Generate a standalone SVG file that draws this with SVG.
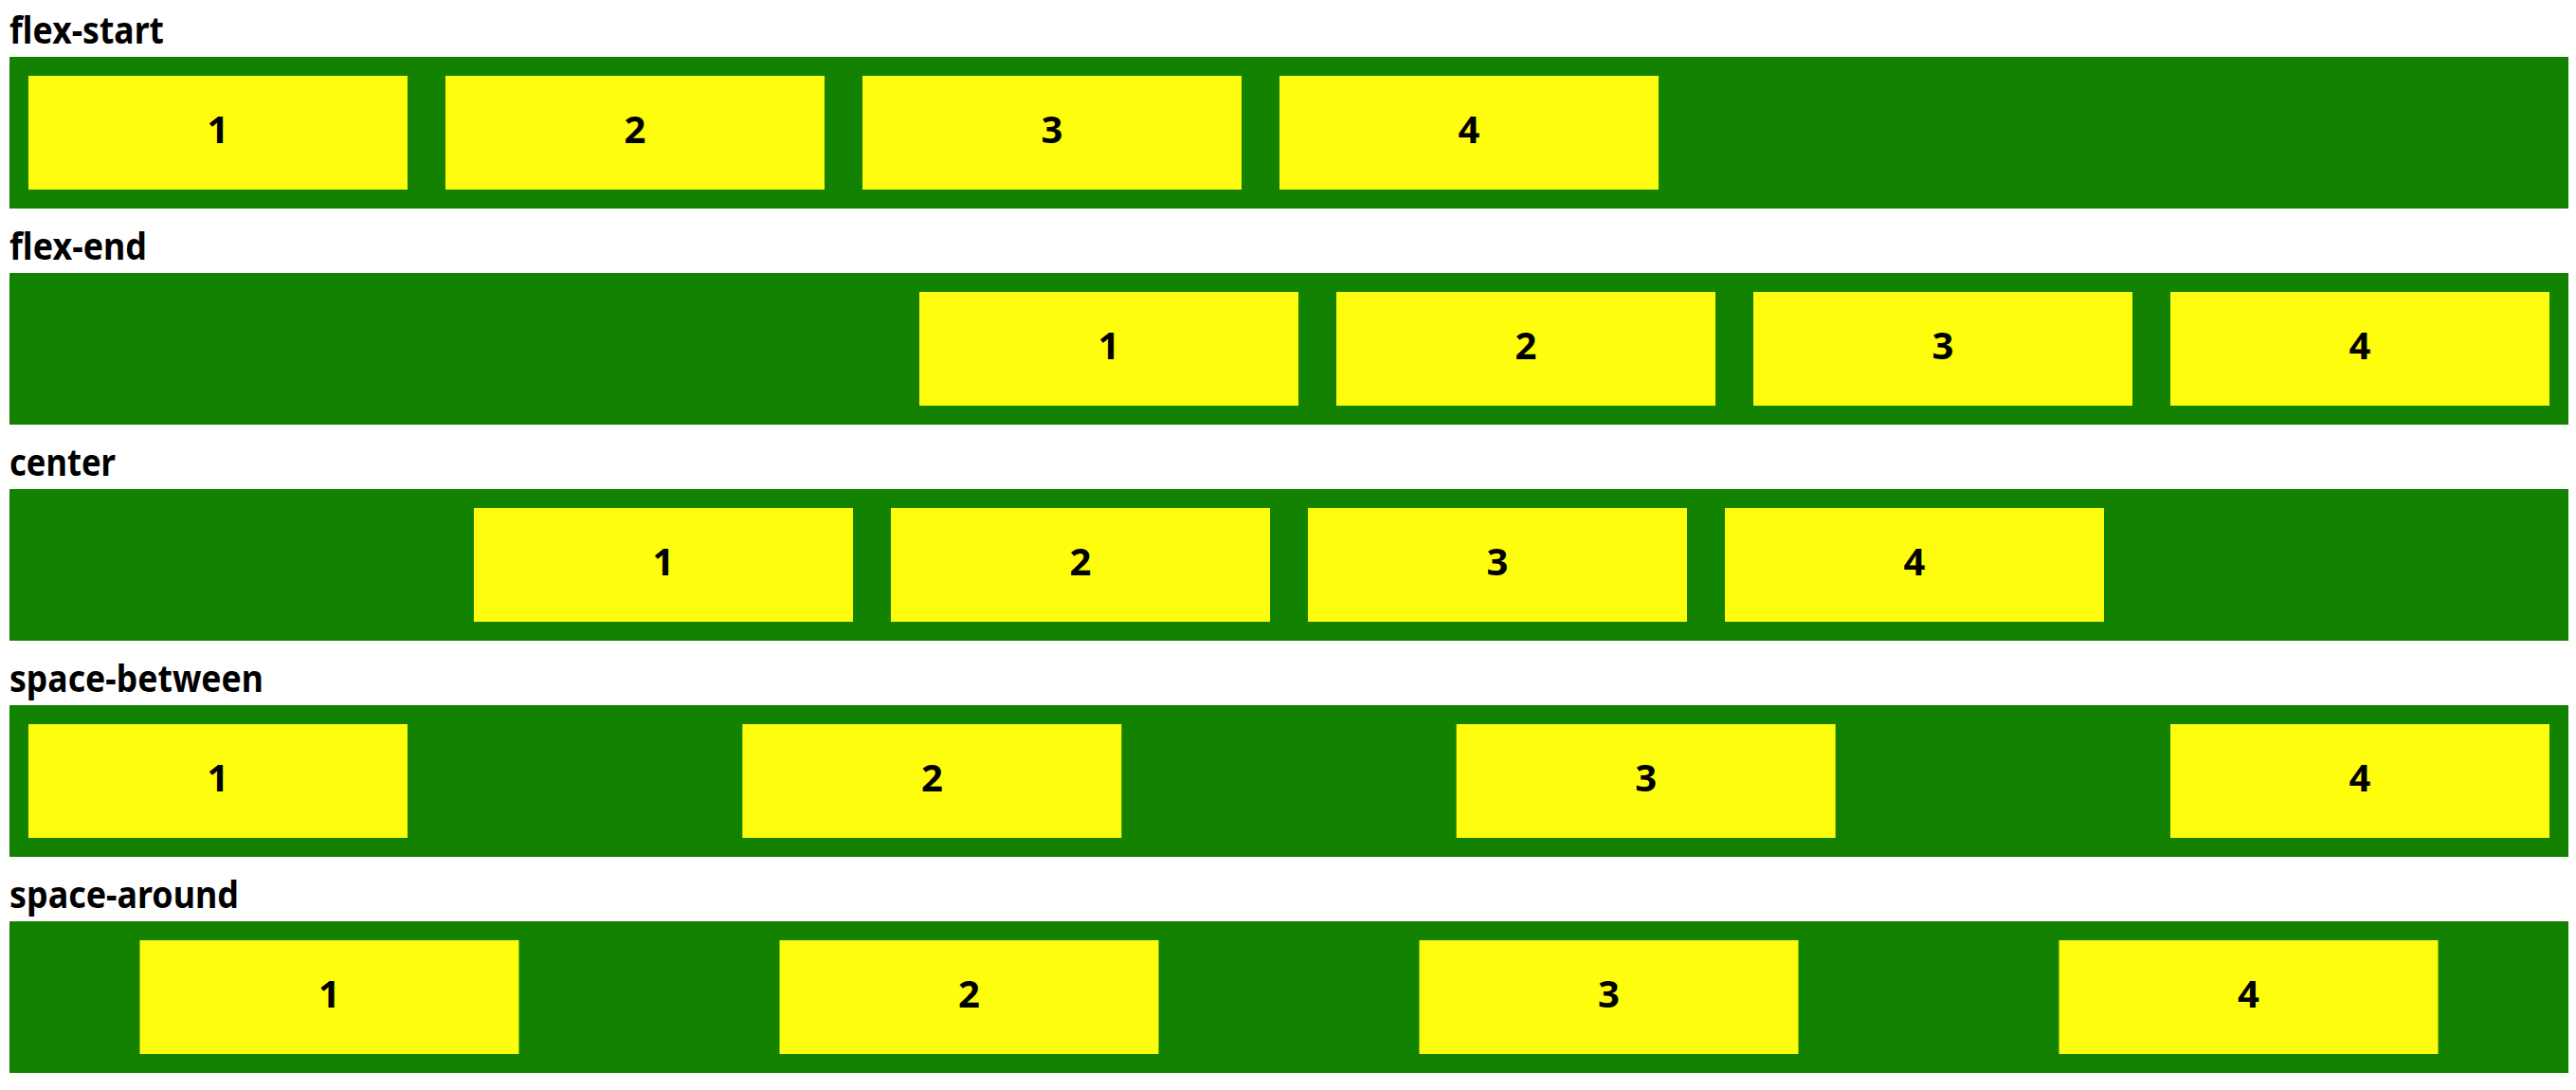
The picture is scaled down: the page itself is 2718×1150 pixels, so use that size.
<svg xmlns="http://www.w3.org/2000/svg" width="2718" height="1150" viewBox="0 0 2718 1150">
<style>
.bg{fill:#ffffff}
.box{fill:#138200}
.item{fill:#fdfd0d}
.lbl{font-family:"Noto Sans","Noto Sans CJK KR",sans-serif;font-size:40px;font-weight:bold;fill:#000}
.num{font-family:"Noto Sans","Noto Sans CJK KR",sans-serif;font-size:40px;font-weight:bold;fill:#000;text-anchor:middle}
</style>
<rect class="bg" x="0" y="0" width="2718" height="1150"/>
<g id="row-flex-start">
<text class="lbl" x="10" y="46" textLength="163" lengthAdjust="spacingAndGlyphs">flex-start</text>
<rect class="box" x="10" y="60" width="2700" height="160"/>
<g id="fs-1"><rect class="item" x="30" y="80" width="400" height="120"/><text class="num" x="230" y="151">1</text></g>
<g id="fs-2"><rect class="item" x="470" y="80" width="400" height="120"/><text class="num" x="670" y="151">2</text></g>
<g id="fs-3"><rect class="item" x="910" y="80" width="400" height="120"/><text class="num" x="1110" y="151">3</text></g>
<g id="fs-4"><rect class="item" x="1350" y="80" width="400" height="120"/><text class="num" x="1550" y="151">4</text></g>
</g>
<g id="row-flex-end">
<text class="lbl" x="10" y="274" textLength="145" lengthAdjust="spacingAndGlyphs">flex-end</text>
<rect class="box" x="10" y="288" width="2700" height="160"/>
<g id="fe-1"><rect class="item" x="970" y="308" width="400" height="120"/><text class="num" x="1170" y="379">1</text></g>
<g id="fe-2"><rect class="item" x="1410" y="308" width="400" height="120"/><text class="num" x="1610" y="379">2</text></g>
<g id="fe-3"><rect class="item" x="1850" y="308" width="400" height="120"/><text class="num" x="2050" y="379">3</text></g>
<g id="fe-4"><rect class="item" x="2290" y="308" width="400" height="120"/><text class="num" x="2490" y="379">4</text></g>
</g>
<g id="row-center">
<text class="lbl" x="10" y="502" textLength="112" lengthAdjust="spacingAndGlyphs">center</text>
<rect class="box" x="10" y="516" width="2700" height="160"/>
<g id="c-1"><rect class="item" x="500" y="536" width="400" height="120"/><text class="num" x="700" y="607">1</text></g>
<g id="c-2"><rect class="item" x="940" y="536" width="400" height="120"/><text class="num" x="1140" y="607">2</text></g>
<g id="c-3"><rect class="item" x="1380" y="536" width="400" height="120"/><text class="num" x="1580" y="607">3</text></g>
<g id="c-4"><rect class="item" x="1820" y="536" width="400" height="120"/><text class="num" x="2020" y="607">4</text></g>
</g>
<g id="row-space-between">
<text class="lbl" x="10" y="730" textLength="268" lengthAdjust="spacingAndGlyphs">space-between</text>
<rect class="box" x="10" y="744" width="2700" height="160"/>
<g id="sb-1"><rect class="item" x="30" y="764" width="400" height="120"/><text class="num" x="230" y="835">1</text></g>
<g id="sb-2"><rect class="item" x="783.33" y="764" width="400" height="120"/><text class="num" x="983.33" y="835">2</text></g>
<g id="sb-3"><rect class="item" x="1536.67" y="764" width="400" height="120"/><text class="num" x="1736.67" y="835">3</text></g>
<g id="sb-4"><rect class="item" x="2290" y="764" width="400" height="120"/><text class="num" x="2490" y="835">4</text></g>
</g>
<g id="row-space-around">
<text class="lbl" x="10" y="958" textLength="242" lengthAdjust="spacingAndGlyphs">space-around</text>
<rect class="box" x="10" y="972" width="2700" height="160"/>
<g id="sa-1"><rect class="item" x="147.5" y="992" width="400" height="120"/><text class="num" x="347.5" y="1063">1</text></g>
<g id="sa-2"><rect class="item" x="822.5" y="992" width="400" height="120"/><text class="num" x="1022.5" y="1063">2</text></g>
<g id="sa-3"><rect class="item" x="1497.5" y="992" width="400" height="120"/><text class="num" x="1697.5" y="1063">3</text></g>
<g id="sa-4"><rect class="item" x="2172.5" y="992" width="400" height="120"/><text class="num" x="2372.5" y="1063">4</text></g>
</g>
<g id="connectors"/>
</svg>
